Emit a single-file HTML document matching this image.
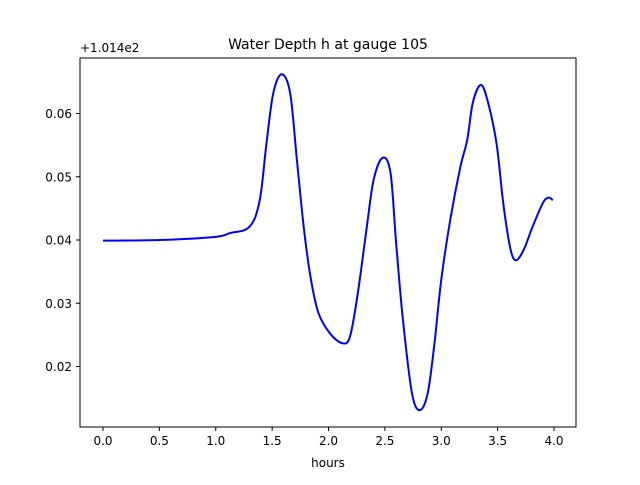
<!DOCTYPE html>
<html><head><meta charset="utf-8"><style>
body{margin:0;background:#fff;font-family:"Liberation Sans","DejaVu Sans",sans-serif;}
svg text{font-family:"DejaVu Sans","Liberation Sans",sans-serif;}
</style></head><body>
<svg id="chart" width="640" height="480">
<rect width="640" height="480" fill="#fff"/>
<text x="328" y="49" text-anchor="middle" font-size="14">Water Depth h at gauge 105</text>
<text x="80" y="52" font-size="12">+1.014e2</text>
<g id="axes"></g>
<path id="line" fill="none" stroke="#0000ff" stroke-width="2"/>
<rect x="80" y="58" width="496" height="369" fill="none" stroke="#000" stroke-width="1"/>
<text x="328" y="467" text-anchor="middle" font-size="12">hours</text>
</svg>
<script>
const hours=[0,0.5,1.0,1.126,1.30,1.39,1.45,1.51,1.585,1.66,1.72,1.78,1.84,1.91,2.01,2.12,2.19,2.26,2.34,2.40,2.48,2.55,2.60,2.66,2.74,2.81,2.88,2.94,3.00,3.08,3.17,3.23,3.28,3.35,3.41,3.49,3.55,3.61,3.66,3.73,3.81,3.90,3.95,3.99];
const depth=[0.0399,0.0400,0.0405,0.0411,0.0421,0.0463,0.0553,0.0632,0.0662,0.0632,0.0526,0.0421,0.0342,0.0285,0.0253,0.0237,0.0247,0.0316,0.0421,0.0495,0.0530,0.0506,0.0395,0.0274,0.0158,0.0131,0.0158,0.0237,0.0337,0.0432,0.0516,0.0558,0.0617,0.0645,0.0621,0.0553,0.0458,0.0389,0.0368,0.0384,0.0421,0.0458,0.0467,0.0463];
const xTicks=[0,0.5,1.0,1.5,2.0,2.5,3.0,3.5,4.0];
const xTickLabels=["0.0","0.5","1.0","1.5","2.0","2.5","3.0","3.5","4.0"];
const yTicks=[0.02,0.03,0.04,0.05,0.06];
const yTickLabels=["0.02","0.03","0.04","0.05","0.06"];
const X=t=>103+112.75*t;
const Y=v=>240-(v-0.04)*6325;
const NS="http://www.w3.org/2000/svg";
const ax=document.getElementById('axes');
xTicks.forEach((t,i)=>{
 const l=document.createElementNS(NS,'line');
 l.setAttribute('x1',X(t));l.setAttribute('x2',X(t));l.setAttribute('y1',427);l.setAttribute('y2',431);l.setAttribute('stroke','#000');
 
 
 ax.appendChild(l);
 const tx=document.createElementNS(NS,'text');
 tx.setAttribute('x',X(t));tx.setAttribute('y',445);tx.setAttribute('text-anchor','middle');tx.setAttribute('font-size','12');
 tx.textContent=xTickLabels[i];
 
 
 ax.appendChild(tx);
});
yTicks.forEach((v,i)=>{
 const l=document.createElementNS(NS,'line');
 l.setAttribute('x1',76);l.setAttribute('x2',80);l.setAttribute('y1',Y(v));l.setAttribute('y2',Y(v));l.setAttribute('stroke','#000');
 
 
 ax.appendChild(l);
 const tx=document.createElementNS(NS,'text');
 tx.setAttribute('x',72);tx.setAttribute('y',Y(v)+4.5);tx.setAttribute('text-anchor','end');tx.setAttribute('font-size','12');
 tx.textContent=yTickLabels[i];
 
 
 ax.appendChild(tx);
});
const P=hours.map((t,i)=>[X(t),Y(depth[i])]);
let d=`M${P[0][0]},${P[0][1]}`;
for(let i=0;i<P.length-1;i++){
 const p0=P[Math.max(0,i-1)],p1=P[i],p2=P[i+1],p3=P[Math.min(P.length-1,i+2)];
 const c1=[p1[0]+(p2[0]-p0[0])/6,p1[1]+(p2[1]-p0[1])/6];
 const c2=[p2[0]-(p3[0]-p1[0])/6,p2[1]-(p3[1]-p1[1])/6];
 d+=` C${c1[0]},${c1[1]} ${c2[0]},${c2[1]} ${p2[0]},${p2[1]}`;
}
document.getElementById('line').setAttribute('d',d);
</script>
</body></html>
